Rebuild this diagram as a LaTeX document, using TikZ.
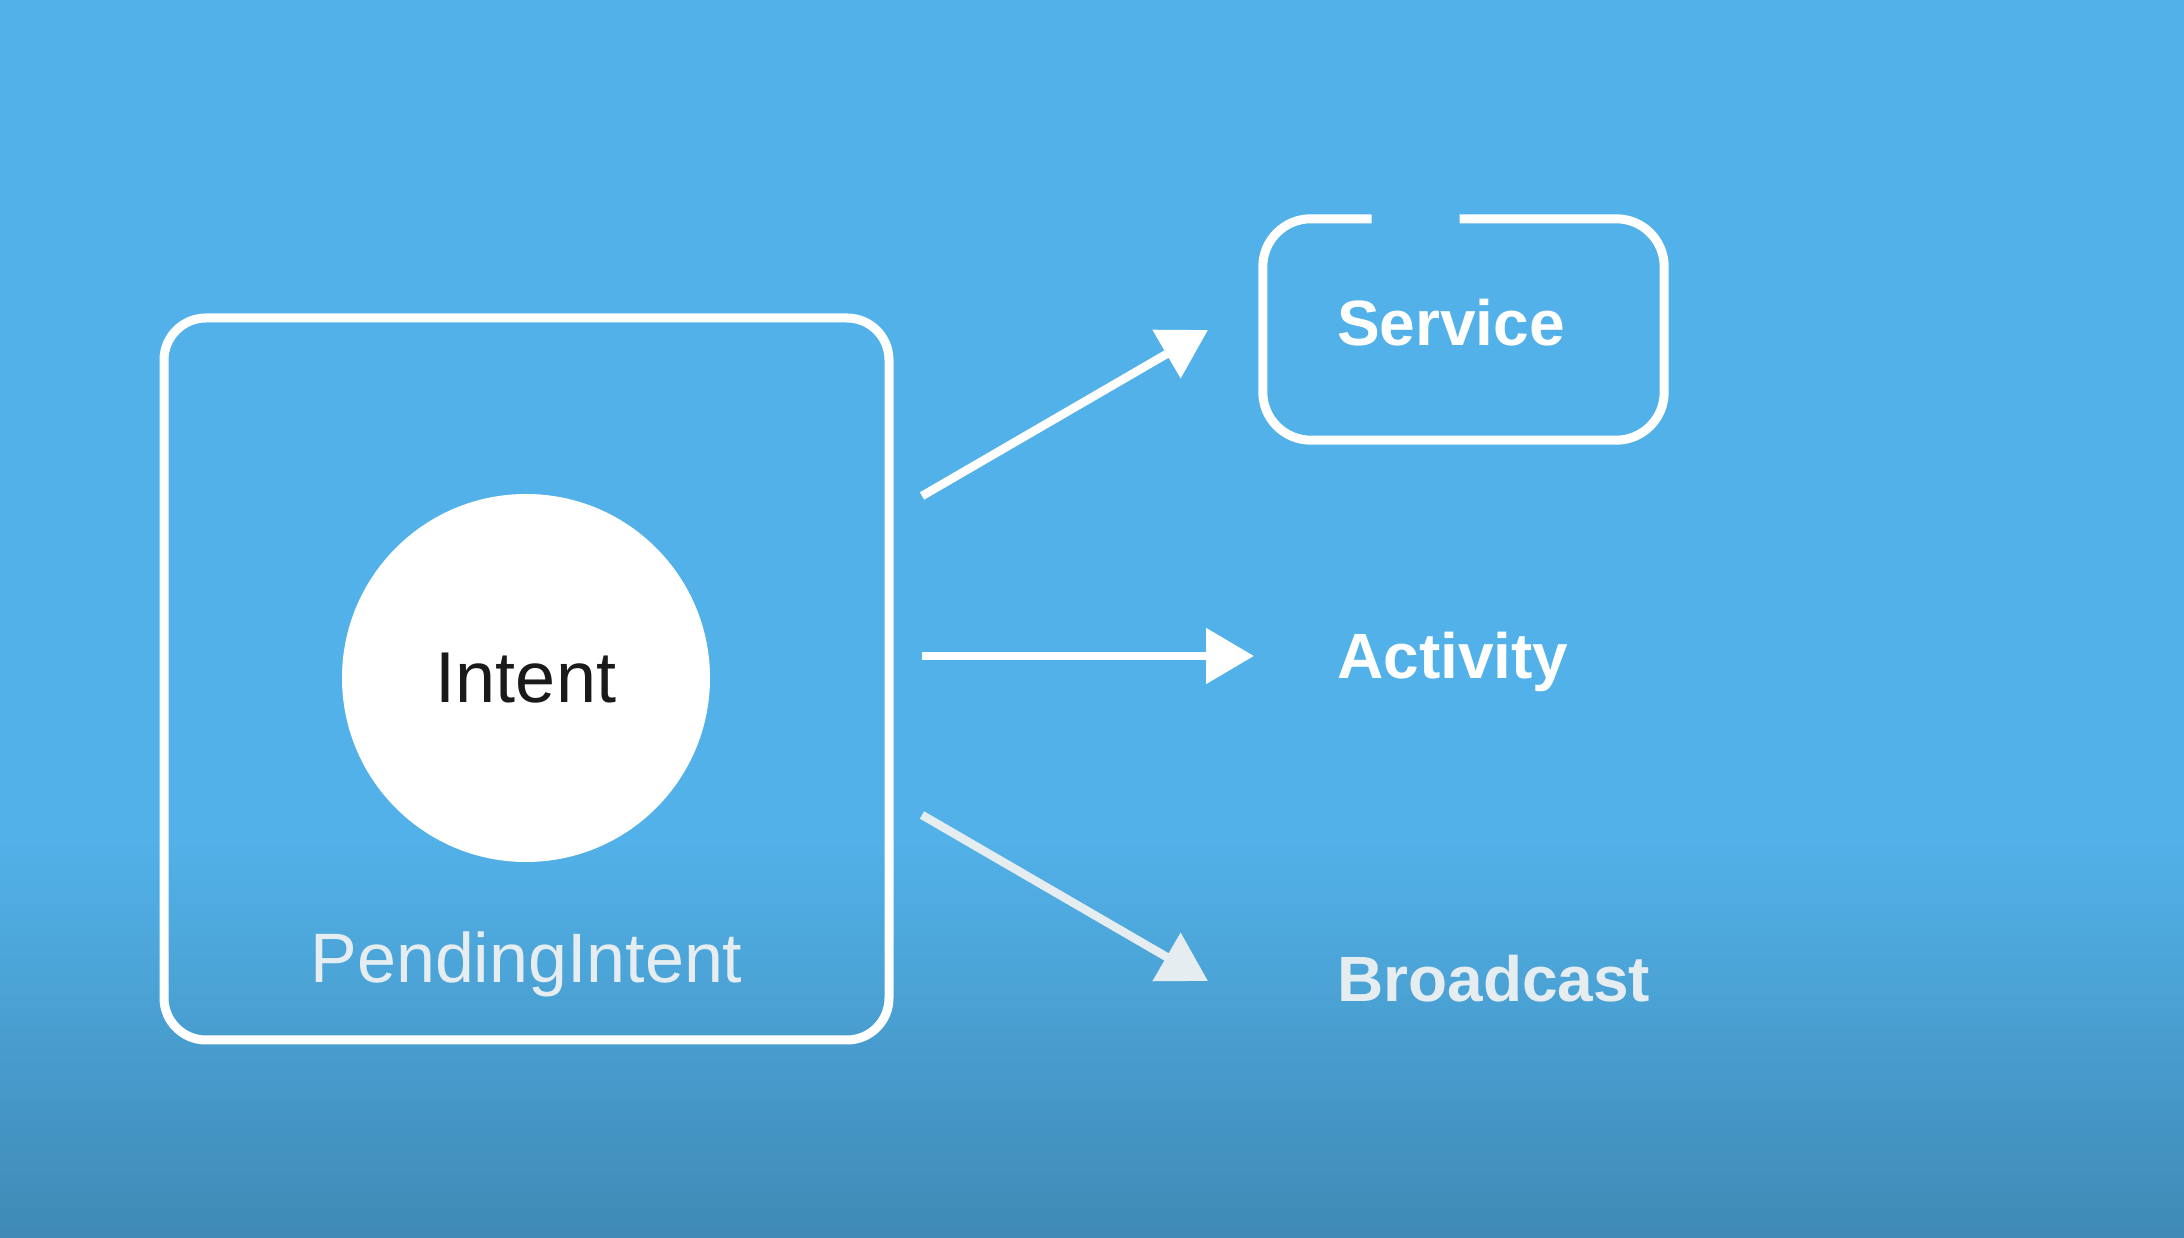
\documentclass[tikz,border=0pt]{standalone}
\usepackage{fontspec}
\setmainfont{Liberation Sans}
\usetikzlibrary{arrows.meta,positioning}

\definecolor{skyblue}{RGB}{82,177,232}
\definecolor{deepblue}{RGB}{63,138,182}
\definecolor{paleline}{RGB}{230,237,240}
\definecolor{inkblack}{RGB}{26,26,26}

\tikzset{
  target/.style={anchor=base west, inner sep=0pt, text=white,
    font=\fontsize{64}{76}\selectfont\bfseries},
  flow/.style={draw=white, line width=8.5pt,
    -{Triangle[length=48pt,width=54pt]}},
  frame/.style={draw=white, line width=9pt, rounded corners=42pt},
}

\begin{document}
\begin{tikzpicture}[x=1pt,y=1pt]
%-------------- background --------------------
\fill[skyblue] (0,0) rectangle (2184,1238);
\shade[top color=skyblue, bottom color=deepblue] (0,0) rectangle (2184,400);
\useasboundingbox (0,0) rectangle (2184,1238);

%-------------- PendingIntent --------------------
\node (pending) [frame, minimum width=725pt, minimum height=722pt]
  at (526.5,559) {};
\node (intent) [circle, fill=white, minimum size=368pt, inner sep=0pt,
  text=inkblack, font=\fontsize{72}{86}\selectfont] at (526,560) {Intent};
\node (pendlabel) [anchor=base, inner sep=0pt, text=paleline,
  font=\fontsize{70}{84}\selectfont] at (526.5,255) {PendingIntent};

%-------------- targets --------------------
\node (svcbox) [minimum width=401pt, minimum height=221pt] at (1463.5,908.5) {};
\draw [frame, rounded corners=48pt]
  ([xshift=-4pt]svcbox.north) -- (svcbox.north east) -- (svcbox.south east)
  -- (svcbox.south west) -- (svcbox.north west) -- ([xshift=-92pt]svcbox.north);

\node (service) [target] at (1337,892) {Service};
\node (activity) [target] at (1337,559) {Activity};
\node (broadcast) [target, text=paleline] at (1337,236) {Broadcast};

%-------------- arrows --------------------
\coordinate (up0) at (922,742);
\coordinate (up1) at (1208,908);
\coordinate (mid0) at (922,582);
\coordinate (mid1) at (1254,582);
\coordinate (low0) at (922,423);
\coordinate (low1) at (1208,257);

\draw [flow] (up0) -- (up1);
\draw [flow] (mid0) -- (mid1);
\draw [flow, draw=paleline, fill=paleline] (low0) -- (low1);

\end{tikzpicture}
\end{document}
